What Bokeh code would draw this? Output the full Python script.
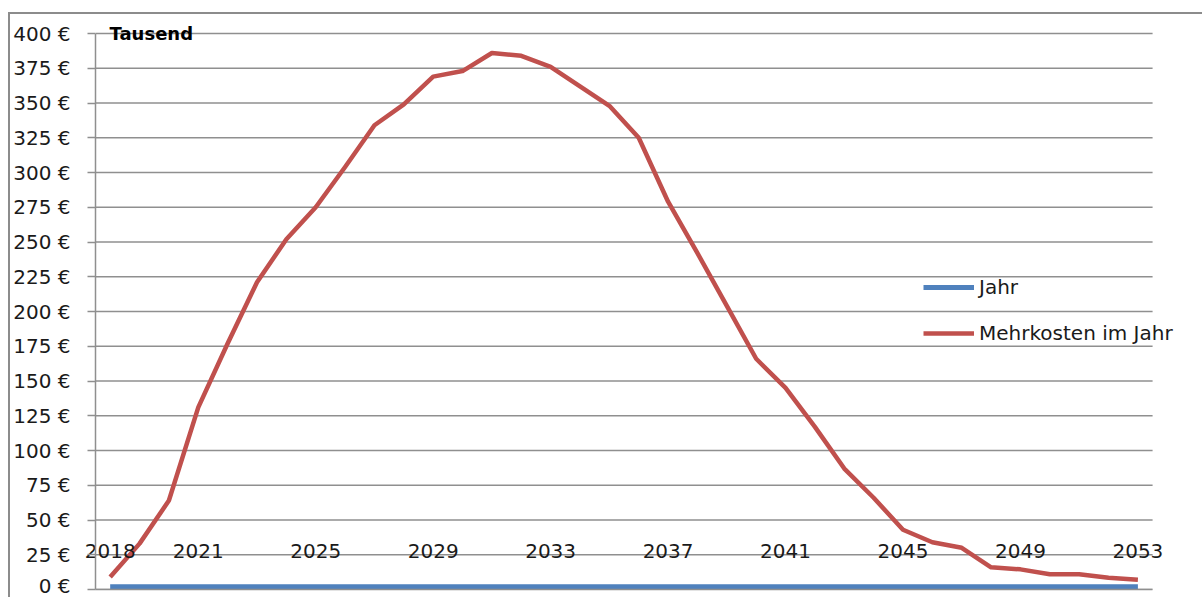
from bokeh.plotting import figure
from bokeh.models import ColumnDataSource, FixedTicker, Label, Legend, LegendItem, Range1d, LinearAxis
from bokeh.embed import file_html
from bokeh.resources import INLINE

# ---- data ----
years = [2018, 2019, 2020, 2021, 2022, 2023, 2024, 2025, 2026, 2027, 2028, 2029,
         2030, 2031, 2032, 2033, 2034, 2035, 2036, 2037, 2038, 2039, 2040, 2041,
         2042, 2043, 2044, 2045, 2046, 2047, 2048, 2049, 2050, 2051, 2052, 2053]
jahr = [2.018, 2.019, 2.020, 2.021, 2.022, 2.023, 2.024, 2.025, 2.026, 2.027, 2.028, 2.029,
        2.030, 2.031, 2.032, 2.033, 2.034, 2.035, 2.036, 2.037, 2.038, 2.039, 2.040, 2.041,
        2.042, 2.043, 2.044, 2.045, 2.046, 2.047, 2.048, 2.049, 2.050, 2.051, 2.052, 2.053]
mehrkosten = [9, 33, 64, 131, 177, 221, 252, 275, 304, 334, 349, 369,
              373, 386, 384, 376, 362, 348, 325, 279, 242, 204, 166, 145,
              117, 87, 66, 43, 34, 30, 16, 14.5, 11, 11, 8.5, 7]
x_tick_years = [2018, 2021, 2025, 2029, 2033, 2037, 2041, 2045, 2049, 2053]
x_tick_labels = ["2018", "2021", "2025", "2029", "2033", "2037", "2041", "2045", "2049", "2053"]
y_ticks = [0, 25, 50, 75, 100, 125, 150, 175, 200, 225, 250, 275, 300, 325, 350, 375, 400]
y_tick_labels = ["0 €", "25 €", "50 €", "75 €", "100 €", "125 €", "150 €", "175 €", "200 €",
                 "225 €", "250 €", "275 €", "300 €", "325 €", "350 €", "375 €", "400 €"]

FONT = "DejaVu Sans"
GRID = "#8f8f8f"
TXT = "#1a1a1a"

X_LO, X_HI = 2017.5, 2053.5   # category band edges of the plotted area

p = figure(width=1188, height=583, frame_width=1107, frame_height=575,
           min_border_left=81, min_border_right=0, min_border_top=0, min_border_bottom=8,
           x_range=Range1d(X_LO, 2055.2), y_range=Range1d(0, 413.7),
           x_axis_location=None, output_backend="svg", toolbar_location=None,
           margin=(12, 0, 0, 8),
           styles={"border-top": "2px solid #8c8c8c", "border-left": "2px solid #8c8c8c"})
p.outline_line_color = None
p.background_fill_color = "white"
p.border_fill_color = "white"

p.xgrid.visible = False
p.ygrid.visible = False
# horizontal gridlines, limited to the category area
p.segment(x0=[X_LO] * len(y_ticks), x1=[X_HI] * len(y_ticks), y0=y_ticks, y1=y_ticks,
          line_color=GRID, line_width=1.5)

ya = p.yaxis[0]
ya.ticker = FixedTicker(ticks=y_ticks)
ya.bounds = (0, 400)
ya.major_label_overrides = {t: l for t, l in zip(y_ticks, y_tick_labels)}
ya.axis_line_color = GRID
ya.axis_line_width = 1.5
ya.major_tick_line_color = GRID
ya.major_tick_line_width = 1.5
ya.major_tick_out = 8
ya.major_tick_in = 0
ya.minor_tick_line_color = None
ya.major_label_standoff = 17
ya.major_label_text_font = FONT
ya.major_label_text_font_size = "20px"
ya.major_label_text_color = TXT

xa = LinearAxis(ticker=FixedTicker(ticks=x_tick_years),
                major_label_overrides={t: l for t, l in zip(x_tick_years, x_tick_labels)})
xa.bounds = (X_LO, X_HI)
xa.axis_line_color = GRID
xa.axis_line_width = 1.5
xa.major_tick_line_color = None
xa.minor_tick_line_color = None
xa.major_tick_out = 0
xa.major_tick_in = 0
xa.major_label_standoff = -46
xa.major_label_text_font = FONT
xa.major_label_text_font_size = "20px"
xa.major_label_text_color = TXT
p.add_layout(xa, "below")

src = ColumnDataSource(dict(year=years, jahr=jahr, mk=mehrkosten))
r_jahr = p.line("year", "jahr", source=src, line_color="#4F81BD", line_width=5)
r_mk = p.line("year", "mk", source=src, line_color="#C0504D", line_width=4.5, line_join="round")

p.add_layout(Label(x=X_LO, y=400, x_offset=14, text="Tausend", text_baseline="middle",
                   text_font=FONT, text_font_size="18px", text_font_style="bold",
                   text_color="black"))

legend = Legend(items=[LegendItem(label="Jahr", renderers=[r_jahr]),
                       LegendItem(label="Mehrkosten im Jahr", renderers=[r_mk])],
                location=(828, 244), orientation="vertical",
                background_fill_alpha=0, border_line_color=None,
                padding=0, margin=0, spacing=22, glyph_width=51, glyph_height=24,
                label_height=24, label_standoff=5,
                label_text_font=FONT, label_text_font_size="20px", label_text_color=TXT)
p.add_layout(legend, "center")

open("out.html", "w").write(file_html(p, INLINE))
